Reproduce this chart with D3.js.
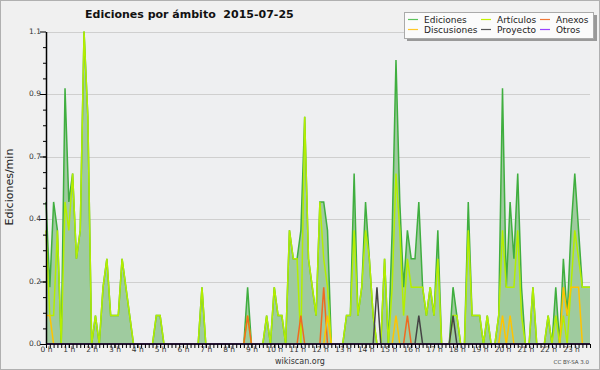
<!DOCTYPE html>
<html>
<head>
<meta charset="utf-8">
<script src="https://cdn.jsdelivr.net/npm/d3@7"></script>
<style>
body { margin: 0; background: #f0f0f0; }
svg { display: block; }
text { font-family: "DejaVu Sans", sans-serif; }
</style>
</head>
<body>
<div id="chart"></div>
<script>
var width = 600;
var height = 370;

// 10-minute bins, 144 per day
const hourLabels = ["0 h","1 h","2 h","3 h","4 h","5 h","6 h","7 h","8 h","9 h","10 h","11 h",
	"12 h","13 h","14 h","15 h","16 h","17 h","18 h","19 h","20 h","21 h","22 h","23 h"];

const ediciones = [
	0.5,0.2,0.5,0.4,0,0.9,0.5,0.6,0.3,0.4,1.1,0.8,
	0,0.1,0,0.2,0.3,0.1,0.1,0.1,0.3,0.2,0.1,0,
	0,0,0,0,0,0.1,0.1,0,0,0,0,0,
	0,0,0,0,0,0.2,0,0,0,0,0,0,
	0,0,0,0,0,0.2,0,0,0,0,0.1,0,
	0.2,0.1,0.1,0,0.4,0.3,0.3,0.4,0.8,0.3,0.2,0.1,
	0.5,0.5,0.4,0,0,0,0,0.1,0.1,0.6,0.1,0.2,
	0.5,0.3,0.1,0,0,0.3,0,0.4,1.0,0.5,0.2,0.4,
	0.3,0.3,0.5,0.2,0.1,0.2,0.1,0.4,0,0,0,0.2,
	0.1,0,0,0.5,0.1,0.1,0.1,0,0.1,0,0,0.1,
	0.9,0.2,0.5,0.3,0.6,0.2,0,0,0.2,0,0,0,
	0.1,0,0.2,0,0.3,0.1,0.4,0.6,0.4,0.2,0.2,0.2
];
const articulos = [
	0.4,0.1,0.1,0.4,0,0.5,0.4,0.6,0.3,0.4,1.1,0.8,
	0,0.1,0,0.2,0.3,0.1,0.1,0.1,0.3,0.2,0.1,0,
	0,0,0,0,0,0.1,0.1,0,0,0,0,0,
	0,0,0,0,0,0.2,0,0,0,0,0,0,
	0,0,0,0,0,0.1,0,0,0,0,0.1,0,
	0.2,0.1,0.1,0,0.4,0.3,0.3,0,0.8,0.3,0.2,0.1,
	0.5,0.3,0.2,0,0,0,0,0.1,0.1,0.4,0.1,0.2,
	0.4,0.3,0.1,0,0,0.3,0,0.2,0.6,0.4,0.1,0.3,
	0.2,0.2,0.2,0.2,0.1,0.2,0.1,0.3,0,0,0,0.1,
	0.1,0,0,0.4,0.1,0.1,0.1,0,0.1,0,0,0.1,
	0.4,0.2,0.2,0.2,0.4,0.1,0,0,0.2,0,0,0,
	0.1,0,0.1,0,0.1,0,0.2,0.4,0.3,0.2,0.2,0.2
];
const anexos = [
	0,0,0,0,0,0,0,0,0,0,0,0,
	0,0,0,0,0,0,0,0,0,0,0,0,
	0,0,0,0,0,0,0,0,0,0,0,0,
	0,0,0,0,0,0,0,0,0,0,0,0,
	0,0,0,0,0,0.1,0,0,0,0,0,0,
	0,0,0,0,0,0,0,0.1,0,0,0,0,
	0,0.2,0,0,0,0,0,0,0,0,0,0,
	0,0,0,0,0,0,0,0,0,0,0,0.1,
	0,0,0,0,0,0,0,0,0,0,0,0,
	0,0,0,0,0,0,0,0,0,0,0,0,
	0,0,0,0,0,0,0,0,0,0,0,0,
	0,0,0,0,0,0,0,0,0,0,0,0
];
const discusiones = [
	0.1,0.1,0,0,0,0,0,0,0,0,0,0,
	0,0,0,0,0,0,0,0,0,0,0,0,
	0,0,0,0,0,0,0,0,0,0,0,0,
	0,0,0,0,0,0,0,0,0,0,0,0,
	0,0,0,0,0,0,0,0,0,0,0,0,
	0,0,0,0,0,0,0,0,0,0,0,0,
	0,0,0.1,0,0,0,0,0,0,0,0,0,
	0,0,0,0,0,0,0,0,0.1,0,0,0,
	0,0,0,0,0,0,0,0,0,0,0,0,
	0,0,0,0,0,0,0,0,0,0,0,0,
	0.1,0,0.1,0,0,0,0,0,0,0,0,0,
	0,0,0,0,0.2,0.1,0.2,0.2,0.2,0,0,0
];
const proyecto = [
	0,0,0,0,0,0,0,0,0,0,0,0,
	0,0,0,0,0,0,0,0,0,0,0,0,
	0,0,0,0,0,0,0,0,0,0,0,0,
	0,0,0,0,0,0,0,0,0,0,0,0,
	0,0,0,0,0,0,0,0,0,0,0,0,
	0,0,0,0,0,0,0,0,0,0,0,0,
	0,0,0,0,0,0,0,0,0,0,0,0,
	0,0,0,0.2,0,0,0,0,0,0,0,0,
	0,0,0.1,0,0,0,0,0,0,0,0,0.1,
	0,0,0,0,0,0,0,0,0,0,0,0,
	0,0,0,0,0,0,0,0,0,0,0,0,
	0,0,0,0,0,0,0,0,0,0,0,0
];
const otros = [
	0,0,0,0,0,0,0,0,0,0,0,0,
	0,0,0,0,0,0,0,0,0,0,0,0,
	0,0,0,0,0,0,0,0,0,0,0,0,
	0,0,0,0,0,0,0,0,0,0,0,0,
	0,0,0,0,0,0,0,0,0,0,0,0,
	0,0,0,0,0,0,0,0,0,0,0,0,
	0,0,0,0,0,0,0,0,0,0,0,0,
	0,0,0,0,0,0,0,0,0,0,0,0,
	0,0,0,0,0,0,0,0,0,0,0,0,
	0,0,0,0,0,0,0,0,0,0,0,0,
	0,0,0,0,0,0,0,0,0,0,0,0,
	0,0,0,0,0,0,0,0,0,0,0,0
];

const yTicks = [0, 0.22, 0.44, 0.66, 0.88, 1.1];
const legendNames = ["Ediciones", "Artículos", "Anexos", "Discusiones", "Proyecto", "Otros"];
const legendColors = ["#5cc35c", "#c2f000", "#f07838", "#ffc828", "#555555", "#9a44ff"];

var svg = d3
	.select("#chart")
	.append("svg")
	.attr("width", width)
	.attr("height", height);

// frame
svg.append("rect").attr("x", 0.5).attr("y", 0.5).attr("width", width - 1).attr("height", height - 1)
	.attr("fill", "#f0f0f0").attr("stroke", "#b0b0b0");

var x = d3.scaleLinear().domain([0, 143]).range([46, 590]);
var y = d3.scaleLinear().domain([0, 1.1]).range([344, 31.5]);

svg.append("rect").attr("x", 46).attr("y", y(1.1)).attr("width", 544).attr("height", 344 - y(1.1))
	.attr("fill", "#eeeff1");

// grid
svg.selectAll(".grid").data(yTicks.slice(1)).join("line")
	.attr("x1", 46).attr("x2", 590)
	.attr("y1", (d) => Math.round(y(d)) + 0.5).attr("y2", (d) => Math.round(y(d)) + 0.5)
	.attr("stroke", "#cfcfcf");

// area under Ediciones
var area = d3.area().x((d, i) => x(i)).y0(y(0)).y1((d) => y(d));
svg.append("path").attr("d", area(ediciones)).attr("fill", "#9fcb9f");

var line = d3.line().x((d, i) => x(i)).y((d) => y(d));
var series = [
	{ values: ediciones, color: "#3fae3f" },
	{ values: articulos, color: "#b4ee00" },
	{ values: anexos, color: "#f06a20" },
	{ values: discusiones, color: "#ffc400" },
	{ values: proyecto, color: "#444444" },
	{ values: otros, color: "#9a44ff" },
];
series.forEach(function (s) {
	svg.append("path").attr("d", line(s.values)).attr("fill", "none")
		.attr("stroke", s.color).attr("stroke-width", 1.5);
});

// y axis
var minor = [];
for (var k = 0; k < 20; k++) minor.push((k * 1.1) / 20);
svg.append("g").attr("transform", "translate(46,0)")
	.call(d3.axisLeft(y).tickValues(minor).tickSize(3).tickFormat(""))
	.call((g) => g.select(".domain").remove());
var yAxis = svg.append("g").attr("transform", "translate(46,0)")
	.call(d3.axisLeft(y).tickValues(yTicks).tickSize(6).tickFormat(d3.format(".1f")).tickSizeOuter(0));
yAxis.selectAll("text").attr("font-size", 7.5).attr("fill", "#333").attr("x", -5).attr("dy", "0.2em");
yAxis.select(".domain").attr("stroke-width", 1.5);

// x axis
var xIdx = d3.range(0, 144);
svg.append("g").attr("transform", "translate(0,344)")
	.call(d3.axisBottom(x).tickValues(xIdx).tickSize(4).tickFormat(""))
	.call((g) => g.select(".domain").remove());
var xAxis = svg.append("g").attr("transform", "translate(0,344)")
	.call(d3.axisBottom(x).tickValues(hourLabels.map((h, i) => i * 6)).tickSize(4)
		.tickFormat((d) => hourLabels[d / 6]).tickSizeOuter(0));
xAxis.select(".domain").attr("stroke-width", 1.5).attr("d", "M46,0H590");
xAxis.selectAll("text").attr("font-size", 7.5).attr("fill", "#333").attr("y", 3).attr("dy", "0.71em");

// titles
svg.append("text").attr("x", 85).attr("y", 18).attr("font-size", 11).attr("font-weight", "bold")
	.style("white-space", "pre").attr("fill", "#111").text("Ediciones por ámbito  2015-07-25");
svg.append("text").attr("transform", "translate(13,187) rotate(-90)").attr("text-anchor", "middle")
	.attr("font-size", 11).attr("fill", "#222").text("Ediciones/min");
svg.append("text").attr("x", 300).attr("y", 364).attr("text-anchor", "middle")
	.attr("font-size", 8).attr("fill", "#333").text("wikiscan.org");
svg.append("text").attr("x", 589).attr("y", 364).attr("text-anchor", "end")
	.attr("font-size", 5.5).attr("fill", "#444").text("CC BY-SA 3.0");

// legend
var lg = svg.append("g");
lg.append("rect").attr("x", 407).attr("y", 15).attr("width", 190).attr("height", 26).attr("fill", "#999");
lg.append("rect").attr("x", 404.5).attr("y", 12.5).attr("width", 189).attr("height", 26)
	.attr("fill", "#fbfbfb").attr("stroke", "#aaa");
var colX = [408, 481, 540];
var rowY = [19.5, 29.5];
legendNames.forEach(function (name, i) {
	var cx = colX[i % 3], cy = rowY[Math.floor(i / 3)];
	lg.append("line").attr("x1", cx).attr("x2", cx + 10).attr("y1", cy).attr("y2", cy)
		.attr("stroke", legendColors[i]).attr("stroke-width", 1.2);
	lg.append("text").attr("x", cx + 16).attr("y", cy + 3.3).attr("font-size", 9).attr("fill", "#222").text(name);
});
</script>
</body>
</html>
